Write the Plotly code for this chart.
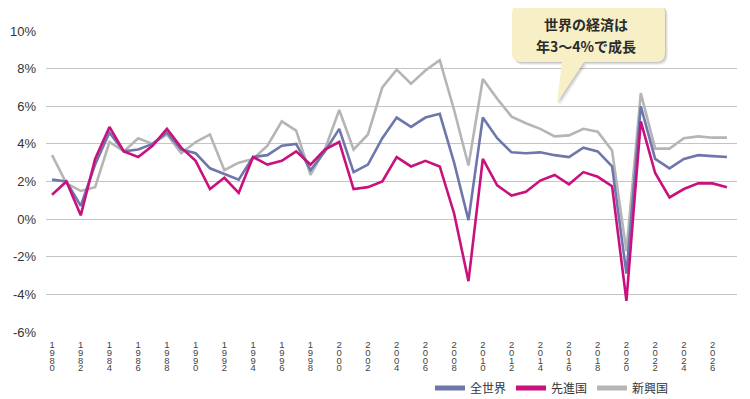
import plotly.graph_objects as go

years = list(range(1980, 2028))

world = [2.1, 2.0, 0.7, 2.9, 4.6, 3.6, 3.7, 4.0, 4.6, 3.7, 3.5, 2.7, 2.4, 2.1, 3.3, 3.4,
         3.9, 4.0, 2.6, 3.6, 4.8, 2.5, 2.9, 4.3, 5.4, 4.9, 5.4, 5.6, 3.0, -0.05, 5.4, 4.3,
         3.55, 3.5, 3.55, 3.4, 3.3, 3.8, 3.6, 2.8, -2.9, 6.0, 3.2, 2.7, 3.2, 3.4, 3.35, 3.3]

advanced = [1.3, 2.0, 0.2, 3.2, 4.9, 3.6, 3.3, 3.9, 4.8, 3.8, 3.1, 1.6, 2.2, 1.4, 3.3, 2.9,
            3.1, 3.6, 2.9, 3.7, 4.1, 1.6, 1.7, 2.0, 3.3, 2.8, 3.1, 2.8, 0.3, -3.3, 3.2, 1.8,
            1.25, 1.45, 2.05, 2.35, 1.85, 2.5, 2.25, 1.75, -4.35, 5.2, 2.45, 1.15, 1.6, 1.9, 1.9, 1.7]

emerging = [3.4, 1.9, 1.5, 1.7, 4.1, 3.6, 4.3, 4.0, 4.5, 3.5, 4.1, 4.5, 2.6, 3.0, 3.2, 3.9,
            5.2, 4.7, 2.35, 3.7, 5.8, 3.7, 4.5, 7.0, 7.95, 7.2, 7.9, 8.45, 5.8, 2.85, 7.45, 6.4,
            5.45, 5.1, 4.8, 4.4, 4.45, 4.8, 4.65, 3.65, -1.7, 6.7, 3.75, 3.75, 4.3, 4.4, 4.33, 4.33]

series_names = ["全世界", "先進国", "新興国"]
colors = {"全世界": "#6e77ab", "先進国": "#c8117c", "新興国": "#b5b5b5"}

tick_years = list(range(1980, 2027, 2))
tick_text = ["<br>".join(f"<span style='font-size:9.5px'>{d}</span>" for d in str(y))
             for y in tick_years]
y_ticks = list(range(-6, 11, 2))
y_text = [f"{v}%" for v in y_ticks]

callout_lines = ["世界の経済は", "年3〜4%で成長"]

# Page places the figure div at (8, 8) (body margin); positions below are
# given in screenshot pixels and converted.
OFF = 8
W, H = 750 - OFF, 399 - OFF
PL, PR, PT, PB = 46, 737, 31, 332  # plot area in screenshot pixels
L, R, T, B = PL - OFF, W - (PR - OFF), PT - OFF, H - (PB - OFF)
PW, PH = PR - PL, PB - PT


def px(X):
    return (X - PL) / PW


def py(Y):
    return (PB - Y) / PH


fig = go.Figure()

# data traces (drawing order: emerging, world, advanced)
for name, vals in [("新興国", emerging), ("全世界", world), ("先進国", advanced)]:
    fig.add_trace(go.Scatter(x=years, y=vals, mode="lines", name=name,
                             line=dict(color=colors[name], width=2.6),
                             showlegend=False, hoverinfo="skip"))

# legend entries
for name in series_names:
    fig.add_trace(go.Scatter(x=[None], y=[None], mode="lines", name=name,
                             line=dict(color=colors[name], width=5), showlegend=True))


def callout_path(x0, y0, x1, y1, r, tail, dx=0, dy=0):
    (bl, br, tip) = tail

    def P(X, Y):
        return f"{px(X + dx):.5f},{py(Y + dy):.5f}"
    s = f"M {P(x0 + r, y0)} L {P(x1 - r, y0)} Q {P(x1, y0)} {P(x1, y0 + r)} "
    s += f"L {P(x1, y1 - r)} Q {P(x1, y1)} {P(x1 - r, y1)} "
    s += f"L {P(br, y1)} L {P(tip[0], tip[1])} L {P(bl, y1)} "
    s += f"L {P(x0 + r, y1)} Q {P(x0, y1)} {P(x0, y1 - r)} "
    s += f"L {P(x0, y0 + r)} Q {P(x0, y0)} {P(x0 + r, y0)} Z"
    return s


tail = (562, 584, (557, 103))
shapes = []
for d, op in [(3, 0.06), (2, 0.08), (1, 0.10)]:
    shapes.append(dict(type="path", xref="paper", yref="paper",
                       path=callout_path(512, 4, 665, 62, 9, tail, dx=d, dy=d),
                       fillcolor=f"rgba(0,0,0,{op})", line=dict(width=0), layer="above"))
shapes.append(dict(type="path", xref="paper", yref="paper",
                   path=callout_path(512, 4, 665, 62, 9, tail),
                   fillcolor="#f7f0c6", line=dict(width=0), layer="above"))

annotations = [
    dict(text=f"<b>{callout_lines[0]}</b>", xref="paper", yref="paper", x=px(586), y=py(24),
         xanchor="center", yanchor="middle", showarrow=False,
         font=dict(family="Noto Sans CJK JP", size=14, color="#2b2b2b")),
    dict(text=f"<b>{callout_lines[1]}</b>", xref="paper", yref="paper", x=px(586), y=py(46),
         xanchor="center", yanchor="middle", showarrow=False,
         font=dict(family="Noto Sans CJK JP", size=14, color="#2b2b2b")),
]

fig.update_layout(
    width=W, height=H,
    margin=dict(l=L, r=R, t=T, b=B, pad=0, autoexpand=False),
    paper_bgcolor="white", plot_bgcolor="white",
    shapes=shapes, annotations=annotations,
    legend=dict(orientation="h", x=px(430), xanchor="left", y=py(388), yanchor="middle",
                font=dict(family="Noto Sans CJK JP", size=12, color="#333333"),
                itemwidth=30, bgcolor="rgba(0,0,0,0)", tracegroupgap=0),
    xaxis=dict(range=[1979.58, 2027.7], tickvals=tick_years, ticktext=tick_text,
               showgrid=False, zeroline=False, showline=False, ticks="",
               tickfont=dict(family="Liberation Sans", size=6, color="#444444"),
               ticklabelstandoff=9,
               tickangle=0, fixedrange=True, automargin=False),
    yaxis=dict(range=[-6, 10], tickvals=y_ticks, ticktext=y_text,
               showgrid=True, gridcolor="#c4c4c4", gridwidth=1.2, zeroline=False,
               showline=False, ticks="", ticklabelstandoff=9,
               tickfont=dict(family="Liberation Sans", size=13, color="#333333"),
               fixedrange=True, automargin=False),
)

fig.write_html("out.html")
